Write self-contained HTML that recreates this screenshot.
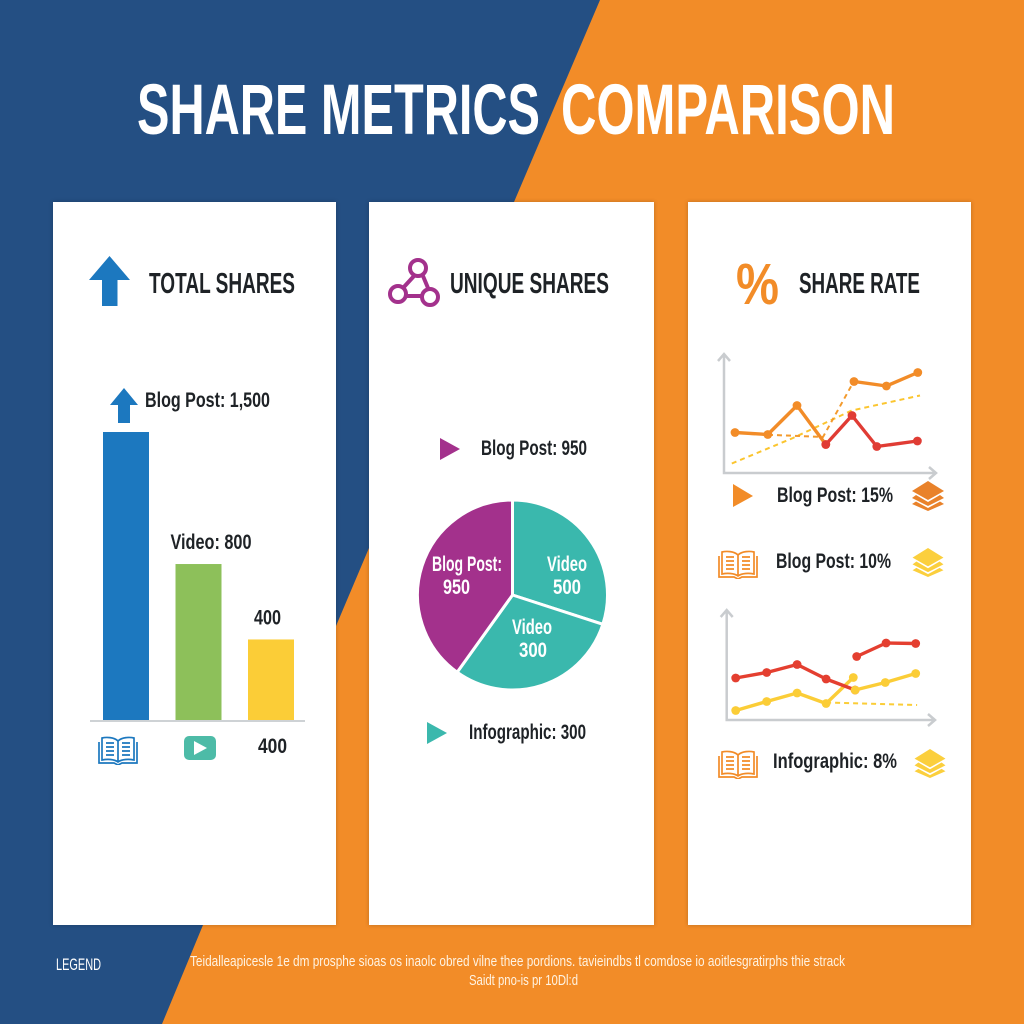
<!DOCTYPE html>
<html lang="en">
<head>
<meta charset="utf-8">
<title>Share Metrics Comparison</title>
<style>
html,body{margin:0;padding:0;background:#f28c28;}
svg{display:block;}
text{font-family:"Liberation Sans Narrow","Liberation Sans",sans-serif;font-weight:700;}
text.thin{font-weight:400;}
rect.card{filter:drop-shadow(0 0 2px rgba(0,0,0,.22));}
</style>
</head>
<body>
<svg id="chart" xmlns="http://www.w3.org/2000/svg" width="1024" height="1024" viewBox="0 0 1024 1024">
<defs>
<symbol id="book" viewBox="0 0 40 30">
<path d="M20 6C16 2 8 2 4 3V25C9 24 16 24 20 27C24 24 31 24 36 25V3C32 2 24 2 20 6ZM20 6V27" fill="none" stroke="currentColor" stroke-width="1.7"/>
<path d="M1 7V28H16L20 30L24 28H39V7" fill="none" stroke="currentColor" stroke-width="1.7"/>
<path d="M8 8H16M8 12H16M8 16H16M8 20H16M24 8H32M24 12H32M24 16H32M24 20H32" stroke="currentColor" stroke-width="1.8"/>
</symbol>
<symbol id="layers" viewBox="0 0 32 30">
<path d="M16 0L32 10L16 19L0 10Z" fill="currentColor"/>
<path d="M4 14L16 21L28 14L32 17L16 25L0 17Z" fill="currentColor"/>
<path d="M4 20.500L16 27L28 20.500L32 23L16 30L0 23Z" fill="currentColor"/>
</symbol>
</defs>

<rect width="1024" height="1024" fill="#f28c28"/>
<polygon points="0,0 600,0 514,202 369,548 336,626 203,925 162,1024 0,1024" fill="#244f83"/>

<g fill="#fff" font-size="71">
<text x="137" y="134" textLength="403" lengthAdjust="spacingAndGlyphs">SHARE METRICS</text>
<text x="561" y="134" textLength="334" lengthAdjust="spacingAndGlyphs">COMPARISON</text>
</g>

<rect class="card" x="53" y="202" width="283" height="723" fill="#fff"/>
<rect class="card" x="369" y="202" width="285" height="723" fill="#fff"/>
<rect class="card" x="688" y="202" width="283" height="723" fill="#fff"/>

<!-- Card 1 static -->
<polygon points="109.500,256 130,280 117.500,280 117.500,306 102,306 102,280 89,280" fill="#1c78bf"/>
<text x="149" y="293" font-size="29" fill="#1e2226" textLength="146" lengthAdjust="spacingAndGlyphs">TOTAL SHARES</text>
<polygon points="124,388 138,405 130,405 130,423 118,423 118,405 110,405" fill="#1c78bf"/>
<rect x="90" y="720" width="215" height="2" fill="#ced2d5"/>
<g id="bars"></g>
<use href="#book" x="98" y="735" width="40" height="30" color="#1c78bf"/>
<rect x="184" y="736" width="32" height="24" rx="5" fill="#4dbba7"/>
<polygon points="194,741 194,755 207,748" fill="#fff"/>
<text x="258" y="753" font-size="21" fill="#1e2226" textLength="29" lengthAdjust="spacingAndGlyphs">400</text>

<!-- Card 2 static -->
<g fill="none" stroke="#a3318c" stroke-width="4">
<path d="M414 276L403 288M423 276L428 288M406 296H422"/>
<circle cx="418" cy="268" r="8"/><circle cx="398" cy="294" r="8"/><circle cx="430" cy="297" r="8"/>
</g>
<text x="450" y="293" font-size="29" fill="#1e2226" textLength="159" lengthAdjust="spacingAndGlyphs">UNIQUE SHARES</text>
<polygon points="440,438 460,449 440,460" fill="#a3318c"/>
<text x="481" y="455" font-size="21" fill="#1e2226" textLength="106" lengthAdjust="spacingAndGlyphs">Blog Post: 950</text>
<g id="pie"></g>
<g fill="#fff" font-size="21">
<text x="432" y="571" textLength="70" lengthAdjust="spacingAndGlyphs">Blog Post:</text>
<text x="443" y="594" textLength="27" lengthAdjust="spacingAndGlyphs">950</text>
<text x="547" y="571" textLength="40" lengthAdjust="spacingAndGlyphs">Video</text>
<text x="553" y="594" textLength="28" lengthAdjust="spacingAndGlyphs">500</text>
<text x="512" y="634" textLength="40" lengthAdjust="spacingAndGlyphs">Video</text>
<text x="519" y="657" textLength="28" lengthAdjust="spacingAndGlyphs">300</text>
</g>
<polygon points="427,722 447,733 427,744" fill="#3bb8ad"/>
<text x="469" y="739" font-size="21" fill="#1e2226" textLength="117" lengthAdjust="spacingAndGlyphs">Infographic: 300</text>

<!-- Card 3 static -->
<text x="736" y="304" font-size="58" fill="#f28c28" textLength="43" lengthAdjust="spacingAndGlyphs">%</text>
<text x="799" y="293" font-size="29" fill="#1e2226" textLength="121" lengthAdjust="spacingAndGlyphs">SHARE RATE</text>
<g id="line-top"></g>
<polygon points="733,484 753,496 733,507" fill="#f28c28"/>
<text x="777" y="502" font-size="21" fill="#1e2226" textLength="116" lengthAdjust="spacingAndGlyphs">Blog Post: 15%</text>
<use href="#layers" x="912" y="481" width="32" height="30" color="#e9822a"/>
<use href="#book" x="718" y="549" width="40" height="30" color="#f28c28"/>
<text x="776" y="568" font-size="21" fill="#1e2226" textLength="115" lengthAdjust="spacingAndGlyphs">Blog Post: 10%</text>
<use href="#layers" x="912" y="548" width="32" height="29" color="#fbcf3d"/>
<g id="line-bottom"></g>
<use href="#book" x="718" y="749" width="40" height="30" color="#f28c28"/>
<text x="773" y="768" font-size="21" fill="#1e2226" textLength="124" lengthAdjust="spacingAndGlyphs">Infographic: 8%</text>
<use href="#layers" x="914" y="749" width="32" height="29" color="#fbcf3d"/>

<!-- Footer -->
<text class="thin" x="56" y="970" font-size="17" fill="#fff" textLength="45" lengthAdjust="spacingAndGlyphs">LEGEND</text>
<text class="thin" x="190" y="966" font-size="15" fill="#fff3e2" textLength="655" lengthAdjust="spacingAndGlyphs">Teidalleapicesle 1e dm prosphe sioas os inaolc obred vilne thee pordions. tavieindbs tl comdose io aoitlesgratirphs thie strack</text>
<text class="thin" x="469" y="985" font-size="15" fill="#fff3e2" textLength="109" lengthAdjust="spacingAndGlyphs">Saidt pno-is pr 10Dl:d</text>

<script>
// Bar chart data
var barCategories = ["Blog Post", "Video", "Infographic"];
var barValues = [1500, 800, 400];
var barLabels = ["", "Video: 800", "400"];
var barFills = ["#1c78bf", "#8dc05a", "#fbcd37"];

// Pie chart data: visual share of the circle (percent)
var pieNames = ["video-500", "video-300", "blog-post-950"];
var pieShares = [30, 29.9, 40.1];
var pieFills = ["#3ab8ad", "#3ab8ad", "#a3318c"];

// Top line chart series
var topOrangeT = [5.5, 21.9, 36.5, 50.9];
var topOrangeV = [8.1, 7.7, 13.5, 5.7];
var topRedT = [50.9, 64, 76.4, 96.7];
var topRedV = [5.7, 11.5, 5.3, 6.4];
var topUpperT = [65, 81.2, 96.9];
var topUpperV = [18.3, 17.4, 20.1];
var topDashOrangeT = [13, 49.5, 65];
var topDashOrangeV = [7.8, 7.2, 18.4];
var topDashYellowT = [3.9, 34.5, 63.9, 98];
var topDashYellowV = [1.9, 7, 12.5, 15.5];

// Bottom line chart series
var botRedAT = [4.5, 20, 35.2, 49.7, 64.2];
var botRedAV = [8.4, 9.5, 11.1, 8.2, 6];
var botRedBT = [65, 79.7, 94.5];
var botRedBV = [12.7, 15.4, 15.3];
var botYellowAT = [4.5, 20, 35.2, 49.7, 63.3];
var botYellowAV = [1.9, 3.7, 5.4, 3.3, 8.5];
var botYellowBT = [64.2, 79.3, 94.5];
var botYellowBV = [6, 7.5, 9.3];
var botDashT = [49.7, 95.2];
var botDashV = [3.5, 3];

var NS = "http://www.w3.org/2000/svg";
function make(parent, tag, attrs) {
  var el = document.createElementNS(NS, tag);
  for (var k in attrs) { el.setAttribute(k, attrs[k]); }
  parent.appendChild(el);
  return el;
}

// --- Bars ---
var barsGroup = document.getElementById("bars");
function barX(i) { return 103 + i * 72.5; }
function barY(v) { return 720 - (v + 27) * 0.1886; }
barValues.forEach(function (v, i) {
  var top = barY(v);
  var bar = make(barsGroup, "rect", { x: barX(i), y: top, width: 46, height: 720 - top, fill: barFills[i] });
  
  
});
var topLabel = make(barsGroup, "text", { x: 145, y: 407, "font-size": 21, fill: "#1e2226", textLength: 125, lengthAdjust: "spacingAndGlyphs" });
topLabel.textContent = "Blog Post: 1,500";


barLabels.forEach(function (t, i) {
  if (!t) { return; }
  var wide = t.length > 4;
  var lbl = make(barsGroup, "text", {
    x: barX(i) + (wide ? -5 : 6),
    y: barY(barValues[i]) - 15,
    "font-size": 21,
    fill: "#1e2226",
    textLength: wide ? 81 : 27,
    lengthAdjust: "spacingAndGlyphs"
  });
  lbl.textContent = t;
  
  
});

// --- Pie ---
var pieGroup = document.getElementById("pie");
var pieCx = 512.5, pieCy = 595, pieR = 95;
var pieTotal = pieShares.reduce(function (a, b) { return a + b; }, 0);
function piePoint(angle) {
  return [pieCx + pieR * Math.sin(angle), pieCy - pieR * Math.cos(angle)];
}
var pieStart = 0;
pieShares.forEach(function (s, i) {
  var sweep = s / pieTotal * Math.PI * 2;
  var a = piePoint(pieStart), b = piePoint(pieStart + sweep);
  var d = "M" + pieCx + " " + pieCy + "L" + a[0] + " " + a[1] + "A" + pieR + " " + pieR + " 0 " + (sweep > Math.PI ? 1 : 0) + " 1 " + b[0] + " " + b[1] + "Z";
  var slice = make(pieGroup, "path", { d: d, fill: pieFills[i], stroke: "#fff", "stroke-width": 3, "stroke-linejoin": "round" });
  
  
  pieStart += sweep;
});

// --- Line charts ---
function drawAxes(group, ox, oy, topY, endX, name) {
  var axes = make(group, "path", {
    d: "M" + ox + " " + topY + "V" + oy + "H" + endX + "M" + (ox - 6) + " " + (topY + 7) + "L" + ox + " " + topY + "L" + (ox + 6) + " " + (topY + 7) + "M" + (endX - 7) + " " + (oy - 6) + "L" + endX + " " + oy + "L" + (endX - 7) + " " + (oy + 6),
    fill: "none", stroke: "#c9cccf", "stroke-width": 2.5
  });
  
  
}
function drawSeries(group, xf, yf, ts, vs, color, dashed, name) {
  var pts = ts.map(function (t, i) { return xf(t) + "," + yf(vs[i]); }).join(" ");
  var line = make(group, "polyline", {
    points: pts, fill: "none", stroke: color,
    "stroke-width": dashed ? 2 : 3.4,
    "stroke-dasharray": dashed ? "5 4" : "none",
    "stroke-linejoin": "round"
  });
  
  
  if (dashed) { return; }
  ts.forEach(function (t, i) {
    var dot = make(group, "circle", { cx: xf(t), cy: yf(vs[i]), r: 4.4, fill: color });
    
    
  });
}

var topGroup = document.getElementById("line-top");
function topX(t) { return 724 + t * 2; }
function topY(v) { return 473 - v * 5; }
drawAxes(topGroup, 724, 473, 354, 936, "top-chart-axes");
drawSeries(topGroup, topX, topY, topDashYellowT, topDashYellowV, "#fbc52f", true, "top-dashed-yellow-line");
drawSeries(topGroup, topX, topY, topDashOrangeT, topDashOrangeV, "#f39a2c", true, "top-dashed-orange-line");
drawSeries(topGroup, topX, topY, topOrangeT, topOrangeV, "#f28c28", false, "top-orange-line");
drawSeries(topGroup, topX, topY, topRedT, topRedV, "#e03c34", false, "top-red-line");
drawSeries(topGroup, topX, topY, topUpperT, topUpperV, "#f28c28", false, "top-upper-orange-line");

var botGroup = document.getElementById("line-bottom");
function botX(t) { return 726.7 + t * 2; }
function botY(v) { return 720 - v * 5; }
drawAxes(botGroup, 726.7, 720, 610, 935, "bottom-chart-axes");
drawSeries(botGroup, botX, botY, botDashT, botDashV, "#fbcd37", true, "bottom-dashed-yellow-line");
drawSeries(botGroup, botX, botY, botYellowAT, botYellowAV, "#fbcd37", false, "bottom-yellow-line-a");
drawSeries(botGroup, botX, botY, botRedAT, botRedAV, "#e43f30", false, "bottom-red-line-a");
drawSeries(botGroup, botX, botY, botYellowBT, botYellowBV, "#fbcd37", false, "bottom-yellow-line-b");
drawSeries(botGroup, botX, botY, botRedBT, botRedBV, "#e43f30", false, "bottom-red-line-b");
</script>
</svg>
</body>
</html>
